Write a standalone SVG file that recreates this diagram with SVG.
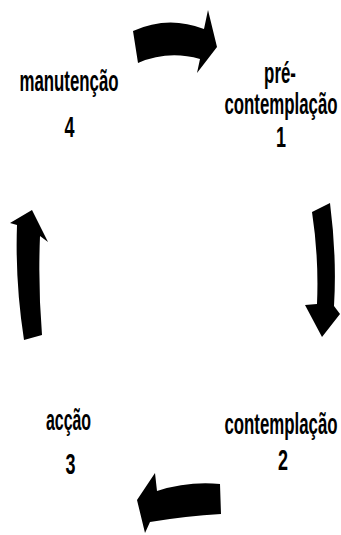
<svg xmlns="http://www.w3.org/2000/svg" width="341" height="535" viewBox="0 0 341 535">
  <style>
    .lbl { font-family: "Liberation Sans", Arial, sans-serif; font-size: 29px; font-weight: bold; fill: #000; text-anchor: middle; }
    .arrow { fill: #000; stroke: none; }
  </style>
  <rect width="341" height="535" fill="#fff"/>

  <!-- curved block arrows forming the cycle -->
  <g id="connectors">
    <path class="arrow" d="M133,31 Q168,15 204,29 L208,10 L217,47 L197,73 L200,59 Q168,50 138,63 Z"/>
    <path class="arrow" d="M312,212 L330,203 Q337,258 334,306 L340,314 L322,337 L305,305 L317,304 Q319,258 312,212 Z"/>
    <path class="arrow" d="M220,484 Q188,481 157,491 L155,473 L137,500 L145,533 L150,522 Q186,516 221,514 Z"/>
    <path class="arrow" d="M24,340 Q15,282 17,225 L10,223 L32,210 L48,242 L40,236 Q38,286 42,335 Z"/>
  </g>

  <!-- labels: condensed horizontally -->
  <g id="stage1">
    <text class="lbl" transform="translate(280,83) scale(0.58,1)">pré-</text>
    <text class="lbl" transform="translate(281,114) scale(0.58,1)">contemplação</text>
    <text class="lbl" transform="translate(281,147) scale(0.62,1)">1</text>
  </g>

  <g id="stage2">
    <text class="lbl" transform="translate(281,434) scale(0.58,1)">contemplação</text>
    <text class="lbl" transform="translate(283,470) scale(0.62,1)">2</text>
  </g>

  <g id="stage3">
    <text class="lbl" transform="translate(68.5,430) scale(0.55,1)">acção</text>
    <text class="lbl" transform="translate(70.5,474) scale(0.62,1)">3</text>
  </g>

  <g id="stage4">
    <text class="lbl" transform="translate(69,91) scale(0.58,1)">manutenção</text>
    <text class="lbl" transform="translate(69.5,137) scale(0.62,1)">4</text>
  </g>
</svg>
